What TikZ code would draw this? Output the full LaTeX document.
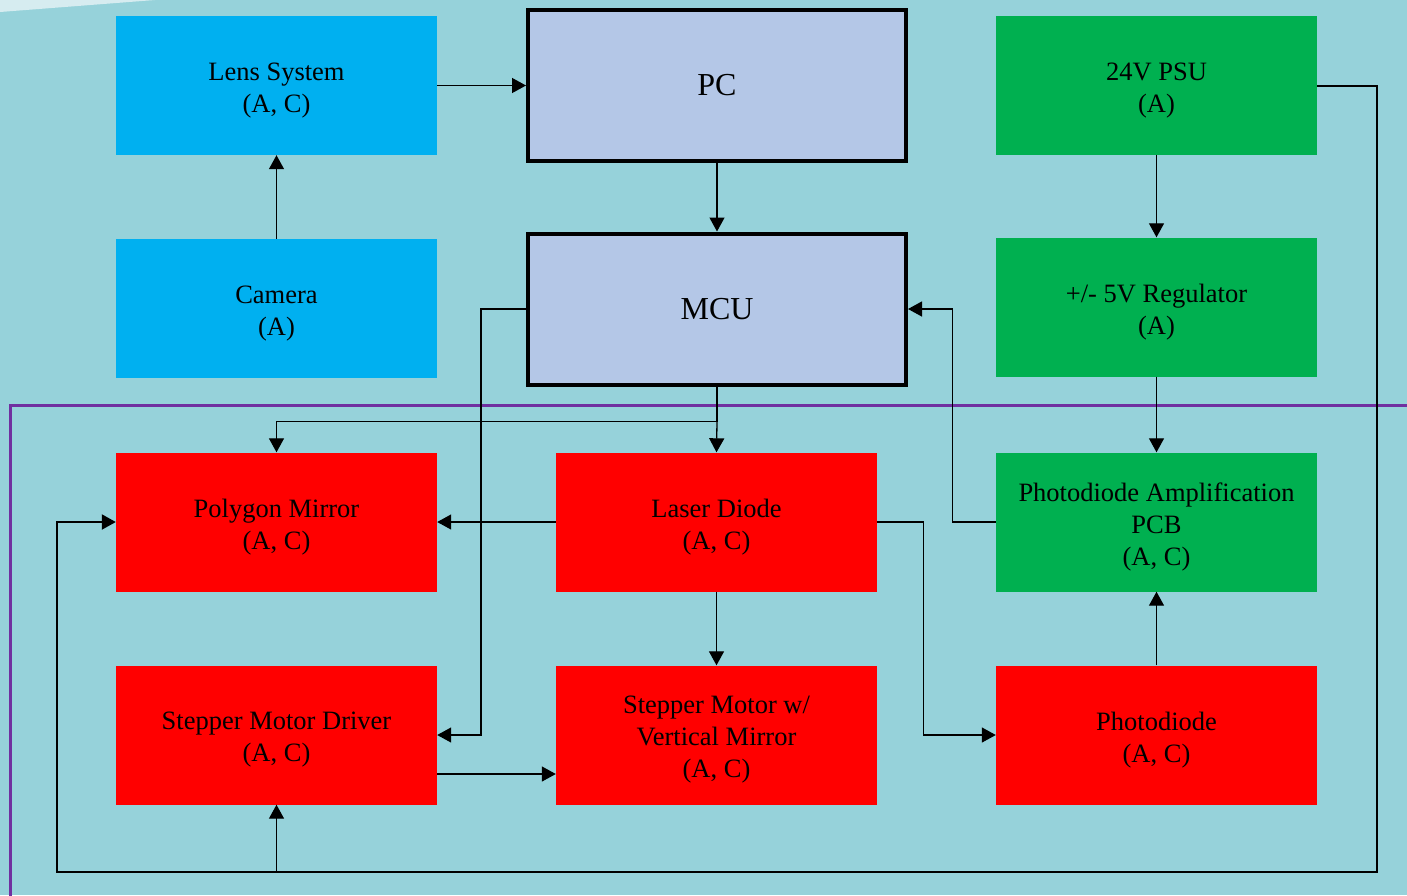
\documentclass[tikz,border=0pt]{standalone}
\usepackage{fontspec}
\setmainfont{Liberation Serif}
\usetikzlibrary{arrows.meta}
\definecolor{slidebg}{RGB}{150,210,218}
\definecolor{slidelight}{RGB}{214,236,240}
\definecolor{optblue}{RGB}{0,176,240}
\definecolor{pwrgreen}{RGB}{0,176,80}
\definecolor{ctrlblue}{RGB}{180,199,231}
\definecolor{framepurple}{RGB}{112,48,160}
\begin{document}
\begin{tikzpicture}[x=1pt, y=-1pt,
        block/.style={minimum width=321pt, minimum height=139pt, inner sep=0pt},
        blocktext/.style={align=center, inner sep=0pt, yshift=-5pt,
          font=\fontsize{26.5}{32}\selectfont},
        optics/.style={block, fill=optblue},
        power/.style={block, fill=pwrgreen},
        scanner/.style={block, fill=red},
        control/.style={block, draw=black, line width=4pt, fill=ctrlblue,
          minimum width=378pt, minimum height=151pt,
          font=\fontsize{32}{38}\selectfont},
        wire/.style={line width=1.3pt, -{Triangle[length=14pt, width=15pt]}},
        plainwire/.style={line width=1.3pt}
      ]

      \useasboundingbox (0,0) rectangle (1407,895);
      \fill[slidebg] (0,0) rectangle (1407,895);
      \fill[slidelight] (0,0) -- (155,0) -- (0,12) -- cycle;
      \draw[framepurple, line width=3pt] (10,405) rectangle (1420,910);

      \node[optics, label={[blocktext]center:{Lens System\\(A, C)}}]  (lens)    at (276.5, 85.5) {};
      \node[control] (pc)      at (717, 85.5)   {PC};
      \node[power, label={[blocktext]center:{24V PSU\\(A)}}]   (psu)     at (1156.5, 85.5) {};

      \node[optics, label={[blocktext]center:{Camera\\(A)}}]  (camera)  at (276.5, 308.5) {};
      \node[control] (mcu)     at (717, 309)     {MCU};
      \node[power, label={[blocktext]center:{+/- 5V Regulator\\(A)}}]   (reg)     at (1156.5, 307)  {};

      \node[scanner, label={[blocktext]center:{Polygon Mirror\\(A, C)}}] (polygon) at (276.5, 522)  {};
      \node[scanner, label={[blocktext]center:{Laser Diode\\(A, C)}}] (laser)   at (716.5, 522)  {};
      \node[power, label={[blocktext]center:{Photodiode Amplification\\PCB\\(A, C)}}]   (amp)     at (1156.5, 522) {};

      \node[scanner, label={[blocktext]center:{Stepper Motor Driver\\(A, C)}}] (driver)  at (276.5, 735)  {};
      \node[scanner, label={[blocktext]center:{Stepper Motor w/\\Vertical Mirror\\(A, C)}}] (stepper) at (716.5, 735)  {};
      \node[scanner, label={[blocktext]center:{Photodiode\\(A, C)}}] (diode)   at (1156.5, 735) {};

      \coordinate (railR) at (1377, 872);
      \coordinate (railL) at (57, 872);

      \draw[wire] (lens.east) -- (pc.west |- lens.east);
      \draw[wire] (camera.north) -- (lens.south);
      \draw[wire] (pc.south) -- (mcu.north);
      \draw[wire] (psu.south) -- (reg.north);
      \draw[wire] (reg.south) -- (amp.north);

      \draw[plainwire] (mcu.south) -- ++(0,35) coordinate (split);
      \draw[wire] (split) -- (laser.north);
      \draw[wire] (split) -| (polygon.north);
      \draw[wire] (mcu.west) -- ++(-45,0) |- (driver.east);
      \draw[wire] (laser.west) -- (polygon.east);
      \draw[wire] (laser.south) -- (stepper.north);
      \draw[wire] (laser.east) -- ++(46,0) |- (diode.west);
      \draw[wire] (diode.north) -- (amp.south);
      \draw[wire] (amp.west) -- ++(-43,0) |- (mcu.east);
      \draw[wire] ([yshift=-39pt]driver.east) -- ([yshift=-39pt]stepper.west);

      \draw[wire, line width=2pt] (psu.east) -| (railR) -- (railL) |- (polygon.west);
      \draw[wire] (driver.south |- railL) -- (driver.south);

    \end{tikzpicture}
\end{document}
